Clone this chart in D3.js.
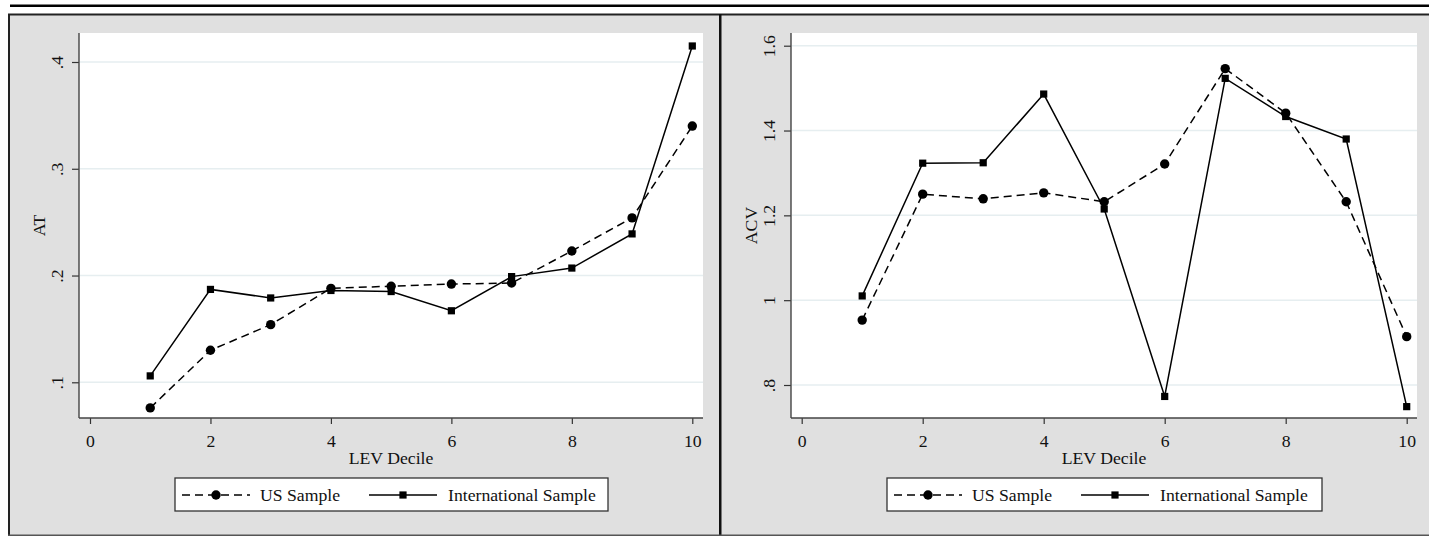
<!DOCTYPE html>
<html><head><meta charset="utf-8">
<script src="https://cdn.jsdelivr.net/npm/d3@7"></script>
<style>
body{margin:0;background:#fff}
svg{display:block}
svg text{font-family:"Liberation Serif","Times New Roman",serif !important;fill:#111}
</style>
</head><body><svg id="c" width="1429" height="536"></svg>
<script>
// ---- data ----
const deciles = [1,2,3,4,5,6,7,8,9,10];
const xTicks = [0,2,4,6,8,10];
const xTitle = "LEV Decile";
const seriesNames = ["US Sample","International Sample"];

const atUS   = [0.076,0.130,0.154,0.188,0.190,0.192,0.193,0.223,0.254,0.340];
const atIntl = [0.106,0.187,0.179,0.186,0.185,0.167,0.199,0.207,0.239,0.415];
const atTicks = [0.1,0.2,0.3,0.4];
const atTickLabels = [".1",".2",".3",".4"];

const acvUS   = [0.953,1.250,1.239,1.253,1.232,1.321,1.546,1.441,1.232,0.914];
const acvIntl = [1.010,1.323,1.324,1.486,1.215,0.773,1.523,1.433,1.380,0.749];
const acvTicks = [0.8,1,1.2,1.4,1.6];
const acvTickLabels = [".8","1","1.2","1.4","1.6"];

// ---- drawing ----
const svg = d3.select("#c");
const FS = 17.7;
const FF = '"Liberation Serif","Times New Roman",serif';

// top rule
svg.append("rect").attr("x",10).attr("y",4.5).attr("width",1419).attr("height",2.5).attr("fill","#000");

function txt(sel){ return sel.attr("font-family",FF).attr("font-size",FS).attr("fill","#111"); }

function panel(o){
  svg.append("rect").attr("x",o.px).attr("y",14).attr("width",o.pw).attr("height",522)
    .attr("fill","#e0e0e0");
  svg.append("rect").attr("x",o.left).attr("y",o.top).attr("width",o.right-o.left).attr("height",o.bottom-o.top)
    .attr("fill","#fff");

  const x = d3.scaleLinear().domain([0,10]).range(o.xr);
  const y = d3.scaleLinear().domain(o.yd).range(o.yr);

  svg.append("g").selectAll("line").data(o.yt).join("line")
    .attr("x1",o.left+1).attr("x2",o.right).attr("y1",d=>y(d)).attr("y2",d=>y(d))
    .attr("stroke","#e6eef0").attr("stroke-width",1.5);

  const ya = svg.append("g").attr("transform",`translate(${o.left},0)`)
    .call(d3.axisLeft(y).tickValues(o.yt).tickSize(7).tickSizeOuter(0)
      .tickFormat((d,i)=>o.ytl[i]));
  ya.attr("font-family",FF).attr("font-size",FS);
  ya.select(".domain").remove();
  ya.selectAll(".tick line").attr("stroke","#333").attr("stroke-width",1.2);
  txt(ya.selectAll(".tick text")).attr("transform","rotate(-90)").attr("x",0).attr("y",-16)
    .attr("dy",0).attr("text-anchor","middle");

  const xa = svg.append("g").attr("transform",`translate(0,${o.bottom})`)
    .call(d3.axisBottom(x).tickValues(xTicks).tickSize(6).tickSizeOuter(0));
  xa.attr("font-family",FF).attr("font-size",FS);
  xa.select(".domain").remove();
  xa.selectAll(".tick line").attr("stroke","#333").attr("stroke-width",1.2);
  txt(xa.selectAll(".tick text")).attr("y",29).attr("dy",0);

  svg.append("line").attr("x1",o.left).attr("x2",o.left).attr("y1",o.top).attr("y2",o.bottom)
    .attr("stroke","#444").attr("stroke-width",1.4);
  svg.append("line").attr("x1",o.left).attr("x2",o.right).attr("y1",o.bottom).attr("y2",o.bottom)
    .attr("stroke","#444").attr("stroke-width",1.4);

  txt(svg.append("text")).attr("x",(o.left+o.right)/2).attr("y",463.5).attr("text-anchor","middle").text(xTitle);
  txt(svg.append("text")).attr("transform",`translate(${o.left-34},${(o.top+o.bottom)/2}) rotate(-90)`)
    .attr("text-anchor","middle").text(o.ytitle);

  const line = d3.line().x((d,i)=>x(deciles[i])).y(d=>y(d));
  svg.append("path").datum(o.us).attr("d",line).attr("fill","none").attr("stroke","#000")
    .attr("stroke-width",1.5).attr("stroke-dasharray","8,5");
  svg.append("path").datum(o.intl).attr("d",line).attr("fill","none").attr("stroke","#000")
    .attr("stroke-width",1.5);
  svg.append("g").selectAll("circle").data(o.us).join("circle")
    .attr("cx",(d,i)=>x(deciles[i])).attr("cy",d=>y(d)).attr("r",4.7).attr("fill","#000");
  svg.append("g").selectAll("rect").data(o.intl).join("rect")
    .attr("x",(d,i)=>x(deciles[i])-3.6).attr("y",d=>y(d)-3.6).attr("width",7.2).attr("height",7.2).attr("fill","#000");

  const L = o.leg;
  svg.append("rect").attr("x",L.x).attr("y",478).attr("width",L.w).attr("height",33)
    .attr("fill","#fff").attr("stroke","#333").attr("stroke-width",1.3);
  const ly = 495;
  svg.append("line").attr("x1",L.x+7).attr("x2",L.x+75).attr("y1",ly).attr("y2",ly)
    .attr("stroke","#000").attr("stroke-width",1.5).attr("stroke-dasharray","8,5");
  svg.append("circle").attr("cx",L.x+41).attr("cy",ly).attr("r",4.7).attr("fill","#000");
  txt(svg.append("text")).attr("x",L.x+85).attr("y",500.5).text(seriesNames[0]);
  svg.append("line").attr("x1",L.x+194).attr("x2",L.x+262).attr("y1",ly).attr("y2",ly)
    .attr("stroke","#000").attr("stroke-width",1.5);
  svg.append("rect").attr("x",L.x+228-3.6).attr("y",ly-3.6).attr("width",7.2).attr("height",7.2).attr("fill","#000");
  txt(svg.append("text")).attr("x",L.x+273).attr("y",500.5).text(seriesNames[1]);
}

panel({px:8, pw:712, left:79, right:703, top:33, bottom:418,
  xr:[90,692.3], yd:[0.1,0.4], yr:[382.3,62], yt:atTicks, ytl:atTickLabels,
  ytitle:"AT", us:atUS, intl:atIntl, leg:{x:175,w:433}});
panel({px:720, pw:709, left:791, right:1417, top:33, bottom:418,
  xr:[801.7,1406.7], yd:[0.8,1.6], yr:[385,45.7], yt:acvTicks, ytl:acvTickLabels,
  ytitle:"ACV", us:acvUS, intl:acvIntl, leg:{x:887,w:435}});

svg.append("rect").attr("x",8).attr("y",14).attr("width",2).attr("height",522).attr("fill","#222");
svg.append("rect").attr("x",8).attr("y",13.5).attr("width",1421).attr("height",2).attr("fill","#222");
svg.append("rect").attr("x",719).attr("y",14).attr("width",2.5).attr("height",522).attr("fill","#111");
svg.append("rect").attr("x",8).attr("y",534.5).attr("width",1421).attr("height",1.5).attr("fill","#555");
</script>
</body></html>
